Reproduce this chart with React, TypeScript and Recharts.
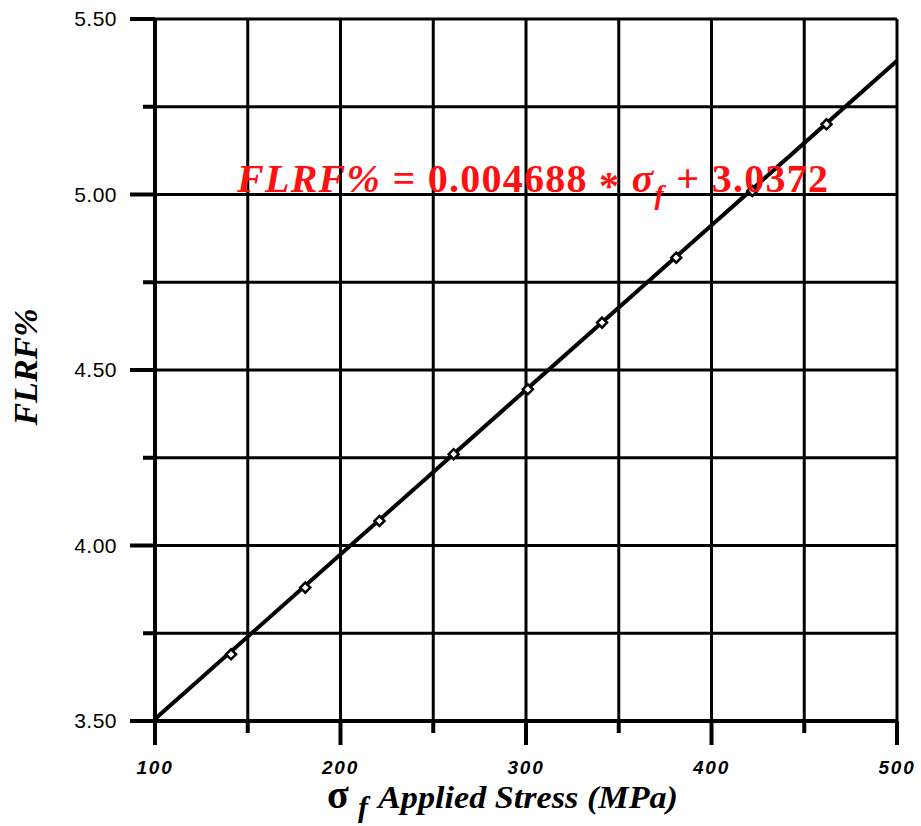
import React from 'react';
import { ComposedChart, Line, Scatter, XAxis, YAxis, CartesianGrid, ReferenceDot } from 'recharts';

const xTicks = [100, 150, 200, 250, 300, 350, 400, 450, 500];
const yTicks = [3.5, 3.75, 4, 4.25, 4.5, 4.75, 5, 5.25, 5.5];
const stress = [141, 181, 221, 261, 301, 341, 381, 422, 462];
const flrfValues = [3.69, 3.88, 4.07, 4.26, 4.445, 4.635, 4.82, 5.01, 5.2];
const fitStress = [100, 500];
const fitFlrf = [3.506, 5.381];
const equationAnchor = { x: 144.2, y: 5.007 };

const points = stress.map((x, i) => ({ x, y: flrfValues[i] }));
const fitData = fitStress.map((x, i) => ({ x, y: fitFlrf[i] }));

const XTick = (props: any) => {
  const { x, y, payload } = props;
  const major = payload.value % 100 === 0;
  return (
    <g>
      <line x1={x} x2={x} y1={y} y2={y + (major ? 24 : 12)} stroke="#000" strokeWidth={4} />
      {major && (
        <text x={x} y={y + 53} textAnchor="middle" fontFamily="'Liberation Sans', Arial, sans-serif"
          fontWeight="bold" fontStyle="italic" fontSize={19} letterSpacing={1.8} fill="#000">
          {payload.value}
        </text>
      )}
    </g>
  );
};

const YTick = (props: any) => {
  const { x, y, payload } = props;
  const major = Math.abs((payload.value * 2) - Math.round(payload.value * 2)) < 1e-6;
  return (
    <g>
      <line x1={x - (major ? 25 : 12)} x2={x} y1={y} y2={y} stroke="#000" strokeWidth={4} />
      {major && (
        <text x={x - 38} y={y + 7} textAnchor="end" fontFamily="'Liberation Sans', Arial, sans-serif"
          fontSize={21} letterSpacing={0.5} fill="#000">
          {payload.value.toFixed(2)}
        </text>
      )}
    </g>
  );
};

const Diamond = (props: any) => {
  const { cx, cy } = props;
  const s = 5;
  return (
    <polygon points={`${cx},${cy - s} ${cx + s},${cy} ${cx},${cy + s} ${cx - s},${cy}`}
      fill="#fff" stroke="#000" strokeWidth={2.5} />
  );
};

const YTitle = (props: any) => {
  const vb = props.viewBox || { x: 0, y: 0, width: 0, height: 0 };
  const tx = vb.x + 37;
  const ty = vb.y + vb.height / 2 - 3;
  return (
    <text x={tx} y={ty} transform={`rotate(-90, ${tx}, ${ty})`} textAnchor="middle"
      fontFamily="'Liberation Serif', 'Times New Roman', serif" fontWeight="bold" fontStyle="italic"
      fontSize={34} fill="#000">
      FLRF%
    </text>
  );
};

const XTitle = (props: any) => {
  const vb = props.viewBox || { x: 0, y: 0, width: 0, height: 0 };
  const bx = vb.x + 172;
  const by = vb.y + 87;
  const serif = "'Liberation Serif', 'Times New Roman', serif";
  return (
    <g>
      <text x={bx} y={by} fontFamily={serif} fontWeight="bold" fontSize={40} fill="#000">σ</text>
      <text x={bx + 31} y={by + 9} fontFamily={serif} fontWeight="bold" fontStyle="italic" fontSize={30} fill="#000">f</text>
      <text x={bx + 51} y={by} fontFamily={serif} fontWeight="bold" fontStyle="italic" fontSize={32}
        textLength={300} lengthAdjust="spacingAndGlyphs" fill="#000">Applied Stress (MPa)</text>
    </g>
  );
};

const EqLabel = (props: any) => {
  const vb = props.viewBox || { x: 0, y: 0 };
  const tx = vb.x + 1;
  const ty = vb.y + 1;
  return (
    <text x={tx} y={ty} fill="#ff1010" fontFamily="'Liberation Serif', 'Times New Roman', serif"
      fontWeight="bold" fontSize={40} textLength={591} lengthAdjust="spacing">
      <tspan fontStyle="italic">FLRF%</tspan>
      <tspan> = 0.004688 </tspan>
      <tspan dy={7}>*</tspan>
      <tspan dy={-7}> </tspan>
      <tspan fontStyle="italic">σ</tspan>
      <tspan fontStyle="italic" fontSize={28} dy={12}>f</tspan>
      <tspan dy={-12}> + 3.0372</tspan>
    </text>
  );
};

export default function App() {
  return (
    <div>
      <style>{`body{margin:0;background:#fff;}`}</style>
      <ComposedChart width={921} height={826} margin={{ top: 19, right: 24, left: 0, bottom: 0 }}>
        <CartesianGrid stroke="#000" strokeWidth={3} />
        <XAxis type="number" dataKey="x" domain={[100, 500]} ticks={xTicks} interval={0}
          allowDataOverflow tickSize={0} tickMargin={0} tickLine={false}
          axisLine={{ stroke: '#000', strokeWidth: 4 }} tick={<XTick />} height={105}
          label={<XTitle />} />
        <YAxis type="number" domain={[3.5, 5.5]} ticks={yTicks} interval={0}
          allowDataOverflow tickSize={0} tickMargin={0} tickLine={false}
          axisLine={{ stroke: '#000', strokeWidth: 4 }} tick={<YTick />} width={155}
          label={<YTitle />} />
        <Line data={fitData} dataKey="y" type="linear" stroke="#000" strokeWidth={4}
          dot={false} activeDot={false} isAnimationActive={false} />
        <Scatter data={points} dataKey="y" shape={<Diamond />} isAnimationActive={false} />
        <ReferenceDot x={equationAnchor.x} y={equationAnchor.y} r={1} fill="none" stroke="none"
          label={<EqLabel />} />
      </ComposedChart>
    </div>
  );
}
